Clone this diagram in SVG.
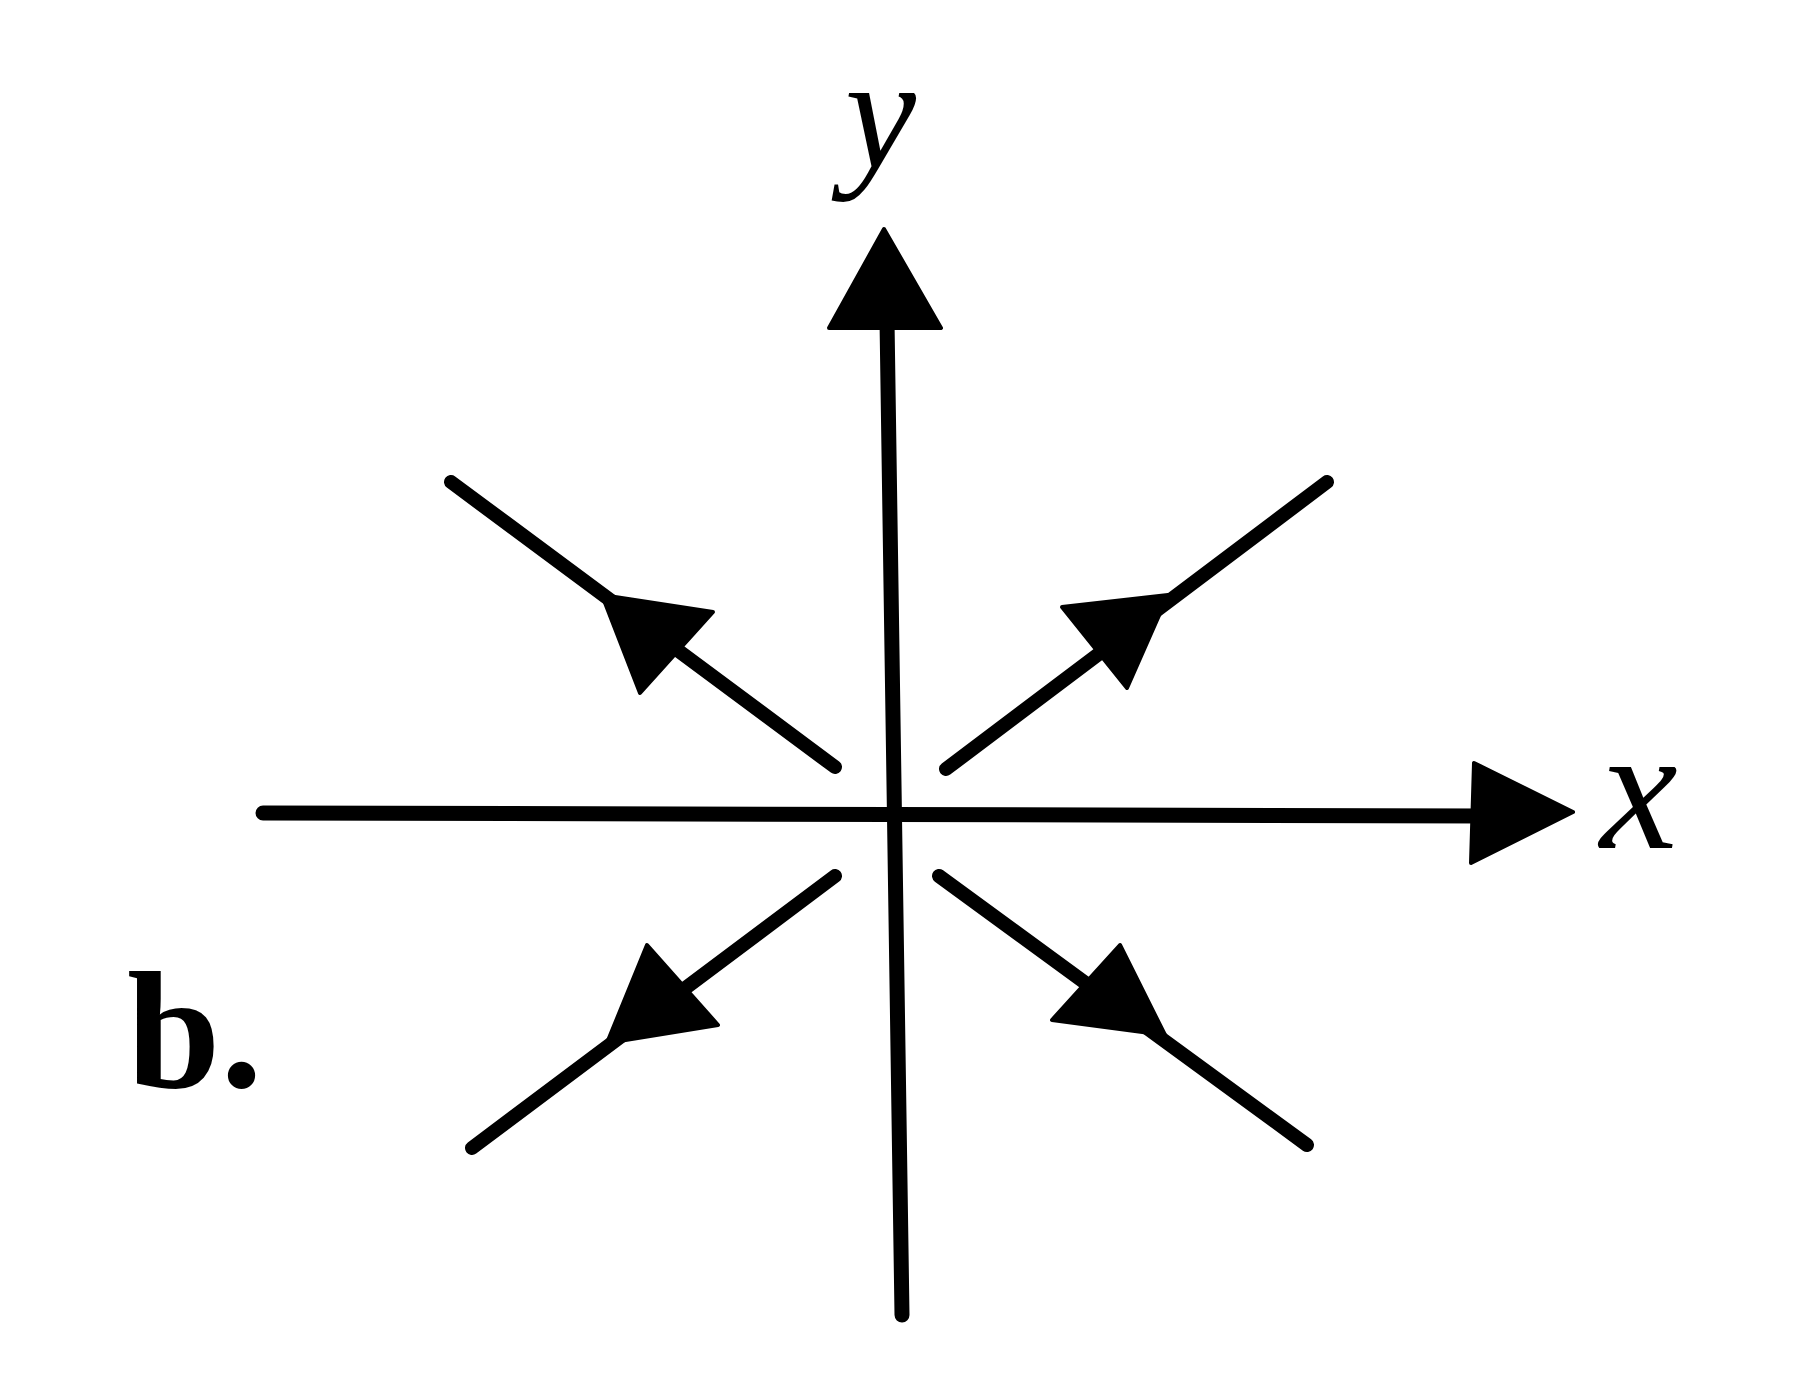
<svg xmlns="http://www.w3.org/2000/svg" width="1806" height="1377" viewBox="0 0 1806 1377">
<style>
.ln{stroke:#000;stroke-width:14;stroke-linecap:round;fill:none}
.ax{stroke:#000;stroke-width:15;stroke-linecap:round;fill:none}
.hd{fill:#000;stroke:#000;stroke-width:4;stroke-linejoin:round}
.it{font-family:"Liberation Serif","Times New Roman",serif;font-style:italic;fill:#000}
.bd{font-family:"Liberation Serif","Times New Roman",serif;font-weight:bold;fill:#000}
</style>
<rect width="1806" height="1377" fill="#fff"/>
<g id="connectors">
  <g id="y-axis">
    <line class="ax" x1="887" y1="320" x2="902" y2="1315"/>
    <polygon class="hd" points="884,229 941,328 829,328"/>
  </g>
  <g id="x-axis">
    <line class="ax" x1="263" y1="813" x2="1485" y2="816"/>
    <polygon class="hd" points="1573,812 1474,763 1471,863"/>
  </g>
  <g id="arrow-ul">
    <line class="ln" x1="451" y1="482" x2="835" y2="767"/>
    <polygon class="hd" points="602,595 713,612 640,693"/>
  </g>
  <g id="arrow-ur">
    <line class="ln" x1="1327" y1="482" x2="946" y2="769"/>
    <polygon class="hd" points="1168,595 1062,607 1127,688"/>
  </g>
  <g id="arrow-ll">
    <line class="ln" x1="835" y1="876" x2="472" y2="1148"/>
    <polygon class="hd" points="607,1043 647,945 718,1025"/>
  </g>
  <g id="arrow-lr">
    <line class="ln" x1="939" y1="876" x2="1307" y2="1145"/>
    <polygon class="hd" points="1165,1035 1120,945 1052,1020"/>
  </g>
</g>
<g id="label-y"><text class="it" x="845" y="168" font-size="160">y</text></g>
<g id="label-x"><text class="it" x="1600" y="848" font-size="175">x</text></g>
<g id="label-b"><text class="bd" x="127" y="1087" font-size="168">b.</text></g>
</svg>
